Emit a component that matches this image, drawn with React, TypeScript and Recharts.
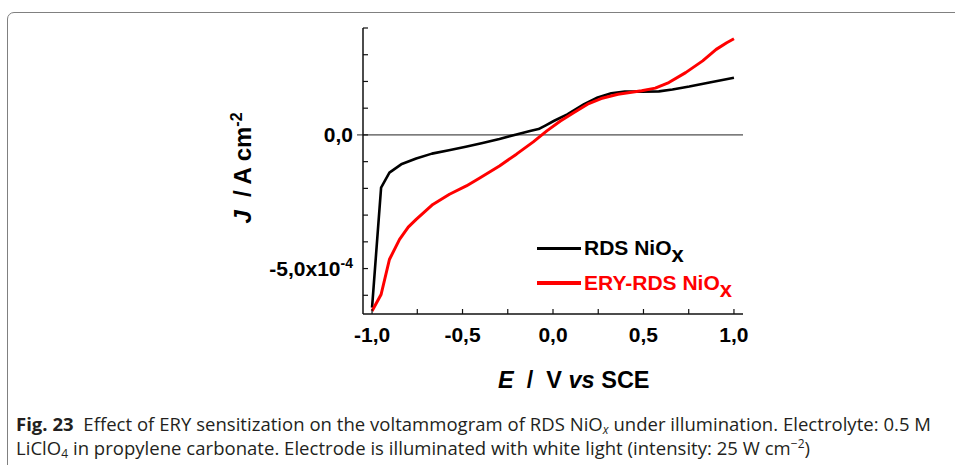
import React from 'react';
import { LineChart, Line, XAxis, YAxis, ReferenceLine } from 'recharts';

// potentials (V vs SCE) and current densities (A cm-2)
const rdsE = [-1.0, -0.95, -0.904, -0.839, -0.756, -0.669, -0.575, -0.482, -0.389, -0.296, -0.202, -0.127, -0.08, -0.04, 0.004, 0.079, 0.172, 0.247, 0.322, 0.397, 0.491, 0.585, 0.66, 0.753, 0.865, 1.0];
const rdsJ = [-6.46e-4, -1.97e-4, -1.41e-4, -1.1e-4, -0.88e-4, -0.7e-4, -0.57e-4, -0.44e-4, -0.3e-4, -0.15e-4, 0.02e-4, 0.15e-4, 0.22e-4, 0.36e-4, 0.52e-4, 0.77e-4, 1.15e-4, 1.4e-4, 1.56e-4, 1.62e-4, 1.62e-4, 1.63e-4, 1.7e-4, 1.81e-4, 1.96e-4, 2.14e-4];

const eryE = [-1.0, -0.95, -0.904, -0.848, -0.8, -0.756, -0.664, -0.572, -0.479, -0.407, -0.296, -0.202, -0.109, -0.034, 0.041, 0.116, 0.191, 0.266, 0.359, 0.49, 0.565, 0.64, 0.733, 0.827, 0.902, 0.96, 1.0];
const eryJ = [-6.59e-4, -5.97e-4, -4.66e-4, -3.91e-4, -3.45e-4, -3.16e-4, -2.6e-4, -2.22e-4, -1.91e-4, -1.62e-4, -1.16e-4, -0.72e-4, -0.26e-4, 0.15e-4, 0.52e-4, 0.84e-4, 1.15e-4, 1.36e-4, 1.52e-4, 1.65e-4, 1.75e-4, 1.96e-4, 2.33e-4, 2.77e-4, 3.2e-4, 3.45e-4, 3.6e-4];

const xTicks = [-1, -0.75, -0.5, -0.25, 0, 0.25, 0.5, 0.75, 1];
const xLabels: Record<string, string> = { '-1': '-1,0', '-0.5': '-0,5', '0': '0,0', '0.5': '0,5', '1': '1,0' };
const yTicks = [-6e-4, -5e-4, -4e-4, -3e-4, -2e-4, -1e-4, 0, 1e-4, 2e-4, 3e-4, 4e-4];

const rdsData = rdsE.map((e, i) => ({ e, j: rdsJ[i] }));
const eryData = eryE.map((e, i) => ({ e, j: eryJ[i] }));

const FONT = '"Liberation Sans", Arial, sans-serif';

const XTick = ({ x, y, payload }: any) => {
  const label = xLabels[String(payload.value)];
  if (!label) return null;
  return (
    <text x={x} y={y} dy="0.71em" textAnchor="middle" fontFamily={FONT} fontWeight="bold" fontSize={21} fill="#000">
      {label}
    </text>
  );
};

const YTick = ({ x, y, payload }: any) => {
  const v = payload.value;
  if (Math.abs(v) < 1e-9) {
    return (
      <text x={x} y={y} dy="0.36em" textAnchor="end" fontFamily={FONT} fontWeight="bold" fontSize={21} fill="#000">
        0,0
      </text>
    );
  }
  if (Math.abs(v + 5e-4) < 1e-9) {
    return (
      <text x={x} y={y} dy="0.36em" textAnchor="end" fontFamily={FONT} fontWeight="bold" fontSize={21} fill="#000">
        -5,0x10
        <tspan dy="-0.55em" fontSize={14}>-4</tspan>
      </text>
    );
  }
  return null;
};

const subX = { fontSize: 22, lineHeight: 0, verticalAlign: '-0.32em' } as const;

const LegendBox = () => (
  <div style={{ position: 'absolute', left: 537, top: 233, fontFamily: FONT, fontWeight: 'bold', fontSize: 21 }}>
    <div style={{ display: 'flex', alignItems: 'center', height: 30 }}>
      <div style={{ width: 44, height: 3, background: '#000', marginRight: 3 }} />
      <span style={{ color: '#000' }}>
        RDS NiO<span style={subX}>x</span>
      </span>
    </div>
    <div style={{ display: 'flex', alignItems: 'center', height: 30, marginTop: 5 }}>
      <div style={{ width: 44, height: 3.5, background: '#ff0000', marginRight: 3 }} />
      <span style={{ color: '#ff0000' }}>
        ERY-RDS NiO<span style={subX}>x</span>
      </span>
    </div>
  </div>
);

const small = { fontSize: 12, lineHeight: 0 } as const;

export default function App() {
  return (
    <div style={{ position: 'relative', width: 955, height: 465, background: '#fff', overflow: 'hidden' }}>
      <style>{'body{margin:0}'}</style>
      <div
        style={{
          position: 'absolute',
          left: 7,
          top: 12,
          width: 980,
          height: 480,
          border: '1.5px solid #808080',
          borderRadius: 7,
        }}
      />
      <LineChart width={955} height={465} margin={{ top: 28, right: 212, left: 283, bottom: 121 }} style={{ position: 'absolute', left: 0, top: 0 }}>
        <XAxis
          type="number"
          dataKey="e"
          domain={[-1.05, 1.05]}
          ticks={xTicks}
          interval={0}
          allowDataOverflow
          height={30}
          tickSize={-5}
          tickMargin={18}
          tick={<XTick />}
          axisLine={{ stroke: '#111', strokeWidth: 1.5 }}
          tickLine={{ stroke: '#111', strokeWidth: 1.2 }}
        />
        <YAxis
          type="number"
          domain={[-6.7e-4, 4e-4]}
          ticks={yTicks}
          interval={0}
          allowDataOverflow
          width={80}
          tickSize={-5}
          tickMargin={15}
          tick={<YTick />}
          axisLine={{ stroke: '#111', strokeWidth: 1.5 }}
          tickLine={{ stroke: '#111', strokeWidth: 1.2 }}
        />
        <ReferenceLine
          segment={[{ x: -1.083, y: 0 }, { x: 1.05, y: 0 }]}
          ifOverflow="visible"
          stroke="#222"
          strokeWidth={1}
        />
        <Line data={rdsData} dataKey="j" type="linear" dot={false} stroke="#000" strokeWidth={2.6} strokeLinejoin="round" isAnimationActive={false} />
        <Line data={eryData} dataKey="j" type="linear" dot={false} stroke="#ff0000" strokeWidth={3} strokeLinejoin="round" isAnimationActive={false} />
      </LineChart>
      <LegendBox />
      <div
        style={{
          position: 'absolute',
          left: 243,
          top: 168,
          transform: 'translate(-50%, -50%) rotate(-90deg)',
          whiteSpace: 'nowrap',
          fontFamily: FONT,
          fontWeight: 'bold',
          fontSize: 24,
        }}
      >
        <i>J</i> &nbsp;/ A cm<sup style={{ fontSize: 16, lineHeight: 0 }}>-2</sup>
      </div>
      <div
        style={{
          position: 'absolute',
          left: 498,
          top: 367,
          whiteSpace: 'nowrap',
          fontFamily: FONT,
          fontWeight: 'bold',
          fontSize: 23.5,
        }}
      >
        <i>E</i>&nbsp; /&nbsp; V <i>vs</i> SCE
      </div>
      <div
        style={{
          position: 'absolute',
          left: 16,
          top: 412,
          whiteSpace: 'nowrap',
          fontFamily: '"Open Sans", sans-serif',
          fontSize: 18.5,
          lineHeight: '24px',
          letterSpacing: 0.03,
          color: '#231f20',
        }}
      >
        <div>
          <b>Fig. 23</b>&nbsp; Effect of ERY sensitization on the voltammogram of RDS NiO
          <span style={{ ...small, fontStyle: 'italic', verticalAlign: '-0.25em' }}>x</span> under illumination. Electrolyte: 0.5 M
        </div>
        <div>
          LiClO<span style={{ ...small, verticalAlign: '-0.25em' }}>4</span> in propylene carbonate. Electrode is illuminated with white light (intensity: 25 W cm
          <span style={{ ...small, verticalAlign: '0.6em' }}>−2</span>)
        </div>
      </div>
    </div>
  );
}
